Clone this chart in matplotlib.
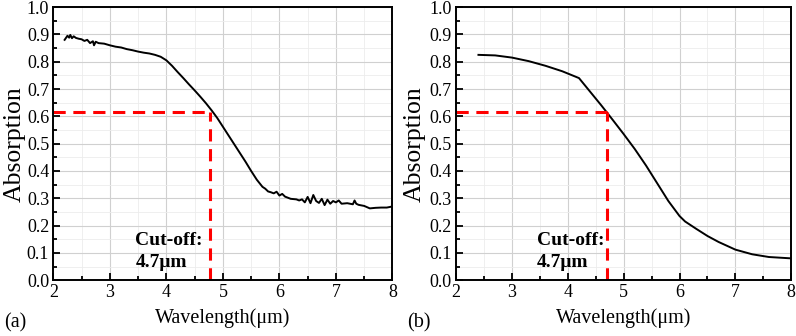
import matplotlib.pyplot as plt
from matplotlib.ticker import MultipleLocator

plt.rcParams['font.family'] = ['Liberation Serif', 'DejaVu Serif']

# ============================================
# (a) measured absorption - read off the picture
# ============================================
wl_a = [2.20, 2.25, 2.28, 2.30, 2.33, 2.36, 2.40, 2.45, 2.50, 2.55, 2.60, 2.65, 2.70, 2.72,
        2.75, 2.80, 2.90, 3.00, 3.10, 3.20, 3.30, 3.40, 3.50, 3.60, 3.70, 3.80, 3.90, 4.00,
        4.10, 4.20, 4.30, 4.40, 4.50, 4.60, 4.70, 4.80, 4.90, 5.00, 5.10, 5.20, 5.30, 5.40,
        5.50, 5.60, 5.65, 5.70, 5.75, 5.80, 5.85, 5.90, 5.95, 6.00, 6.05, 6.10, 6.15, 6.20,
        6.30, 6.35, 6.40, 6.45, 6.50, 6.55, 6.60, 6.65, 6.70, 6.75, 6.80, 6.85, 6.90, 6.95,
        7.00, 7.05, 7.10, 7.20, 7.30, 7.33, 7.36, 7.40, 7.50, 7.60, 7.70, 7.80, 7.90, 8.00]
ab_a = [0.880, 0.895, 0.888, 0.898, 0.886, 0.893, 0.887, 0.884, 0.882, 0.876, 0.880, 0.868, 0.875, 0.860,
        0.873, 0.868, 0.866, 0.860, 0.855, 0.852, 0.846, 0.842, 0.837, 0.833, 0.830, 0.825, 0.818, 0.805,
        0.785, 0.762, 0.740, 0.717, 0.695, 0.672, 0.648, 0.622, 0.594, 0.562, 0.530, 0.498, 0.466, 0.434,
        0.400, 0.368, 0.355, 0.342, 0.335, 0.325, 0.322, 0.318, 0.324, 0.310, 0.316, 0.306, 0.302, 0.298,
        0.296, 0.292, 0.296, 0.285, 0.305, 0.282, 0.312, 0.290, 0.283, 0.298, 0.275, 0.295, 0.280, 0.290,
        0.285, 0.292, 0.280, 0.282, 0.278, 0.292, 0.280, 0.276, 0.272, 0.263, 0.265, 0.266, 0.266, 0.270]

# ============================================
# (b) simulated absorption
# ============================================
wl_b = [2.40, 2.70, 3.00, 3.30, 3.60, 3.90, 4.20, 4.40, 4.60, 4.80, 5.00, 5.20, 5.40, 5.60,
        5.80, 6.00, 6.10, 6.30, 6.50, 6.70, 7.00, 7.30, 7.60, 8.00]
ab_b = [0.825, 0.823, 0.815, 0.802, 0.785, 0.765, 0.740, 0.690, 0.640, 0.588, 0.535, 0.480, 0.420, 0.355,
        0.290, 0.235, 0.215, 0.188, 0.162, 0.140, 0.112, 0.095, 0.085, 0.080]

cutoff_x = [4.77, 4.70]
cutoff_y = 0.615
panels = ['(a)', '(b)']
ylab_x = [-0.082, -0.09]

fig = plt.figure(figsize=(7.96, 3.36), dpi=100)
ax_a = fig.add_axes([0.067, 0.166, 0.426, 0.813])
ax_b = fig.add_axes([0.573, 0.166, 0.421, 0.813])

for ax, x, y, cx, lab, lx in zip([ax_a, ax_b], [wl_a, wl_b], [ab_a, ab_b], cutoff_x, panels, ylab_x):
    ax.set_xlim(2, 8)
    ax.set_ylim(0, 1.0)
    ax.xaxis.set_major_locator(MultipleLocator(1))
    ax.xaxis.set_minor_locator(MultipleLocator(0.5))
    ax.yaxis.set_major_locator(MultipleLocator(0.1))
    ax.yaxis.set_minor_locator(MultipleLocator(0.05))
    ax.yaxis.set_major_formatter(plt.FormatStrFormatter('%.1f'))
    ax.grid(which='major', color='#d0d0d0', lw=0.8)
    ax.grid(which='minor', color='#ececec', lw=0.6)
    ax.set_axisbelow(True)
    ax.tick_params(which='both', direction='in', top=False, right=False, labelsize=13, width=1.3)
    ax.tick_params(which='major', length=5, pad=3)
    ax.tick_params(which='minor', length=3)
    for s in ax.spines.values():
        s.set_linewidth(1.4)

    ax.plot(x, y, color='black', lw=1.4)
    ax.plot([2, cx], [cutoff_y, cutoff_y], color='red', ls=(0, (4, 2.5)), lw=2.2)
    ax.plot([cx, cx], [0, cutoff_y], color='red', ls=(0, (4, 2.5)), lw=2.2)
    ax.text(3.45, 0.105, 'Cut-off:\n4.7\u03bcm', fontsize=14, fontweight='bold',
            va='center', ha='left', linespacing=1.4)

    ax.set_ylabel('Absorption', fontsize=18.5)
    ax.yaxis.set_label_coords(lx, 0.5)
    ax.set_xlabel('Wavelength(\u03bcm)', fontsize=14.5, labelpad=5)
    ax.text(-0.145, -0.155, lab, transform=ax.transAxes, fontsize=14.5, va='center')

plt.savefig('out.png', dpi=100)
